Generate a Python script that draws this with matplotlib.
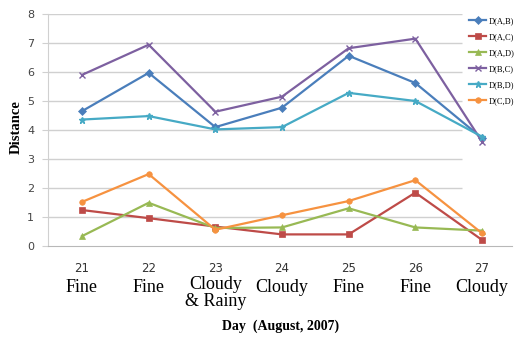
import numpy as np
import matplotlib
matplotlib.use("Agg")
import matplotlib.pyplot as plt

days = [21, 22, 23, 24, 25, 26, 27]
day_nums = ["21", "22", "23", "24", "25", "26", "27"]
weather = ["Fine", "Fine", "Cloudy\n& Rainy", "Cloudy", "Fine", "Fine", "Cloudy"]

d_ab = [4.65, 5.97, 4.10, 4.77, 6.56, 5.62, 3.72]
d_ac = [1.24, 0.96, 0.67, 0.40, 0.40, 1.84, 0.21]
d_ad = [0.34, 1.49, 0.62, 0.64, 1.30, 0.64, 0.53]
d_bc = [5.90, 6.94, 4.63, 5.15, 6.82, 7.15, 3.60]
d_bd = [4.36, 4.48, 4.02, 4.10, 5.28, 5.00, 3.77]
d_cd = [1.52, 2.48, 0.56, 1.06, 1.55, 2.27, 0.44]

series = [
    ("D(A,B)", d_ab, "#4A7EBB", "D"),
    ("D(A,C)", d_ac, "#BE4B48", "s"),
    ("D(A,D)", d_ad, "#98B954", "^"),
    ("D(B,C)", d_bc, "#7D60A0", "x"),
    ("D(B,D)", d_bd, "#46AAC5", "*"),
    ("D(C,D)", d_cd, "#F69240", "o"),
]

fig = plt.figure(figsize=(5.14, 3.41), dpi=100)
ax = fig.add_axes([48 / 514, 95 / 341, 464 / 514, 232 / 341])

x0, x1 = 20.49, 27.45
ax.set_xlim(x0, x1)
ax.set_ylim(0, 8)

# gridlines stop short of the legend column
ax.hlines(range(1, 9), x0, 26.7, color="#d0d0d0", lw=1, zorder=0)

for name, vals, col, mk in series:
    ms = 5 if mk in ("x", "*") else 4
    ax.plot(days, vals, color=col, lw=1.6, marker=mk, markersize=ms,
            markeredgewidth=1 if mk in ("x", "*") else 0.5, label=name)

for s in ["top", "right"]:
    ax.spines[s].set_visible(False)
ax.spines["left"].set_color("#d0d0d0")
ax.spines["bottom"].set_color("#b8b8b8")
ax.set_yticks(range(0, 9))
ax.tick_params(axis="y", length=4, color="#d0d0d0", labelsize=8,
               labelcolor="#444444", pad=6)
ax.set_xticks([])

# category labels: day number (sans) over weather (serif)
for d, n, w in zip(days, day_nums, weather):
    xf = ax.transData.transform((d, 0))[0] / fig.bbox.width
    fig.text(xf, 1 - 268 / 341, n, ha="center", va="center", fontsize=8.5,
             color="#333333", family="DejaVu Sans")
    yc = 293 if "\n" in w else 288
    fig.text(xf, 1 - yc / 341, w, ha="center", va="center", fontsize=13,
             family="Liberation Serif", linespacing=1.05)

fig.text(281 / 514, 1 - 326 / 341, "Day  (August, 2007)", ha="center",
         va="center", fontsize=10, fontweight="bold", family="Liberation Serif")
fig.text(16 / 514, 1 - 127 / 341, "Distance", ha="center", va="center",
         rotation=90, fontsize=10.5, fontweight="bold", family="Liberation Serif")

leg = ax.legend(loc="upper left", bbox_to_anchor=(465 / 514, 1 - 13 / 341),
                bbox_transform=fig.transFigure, frameon=False,
                prop={"family": "Liberation Serif", "size": 6},
                handlelength=2.0, handletextpad=0.3, labelspacing=0.95,
                borderpad=0)

fig.savefig("out.png", dpi=100)
